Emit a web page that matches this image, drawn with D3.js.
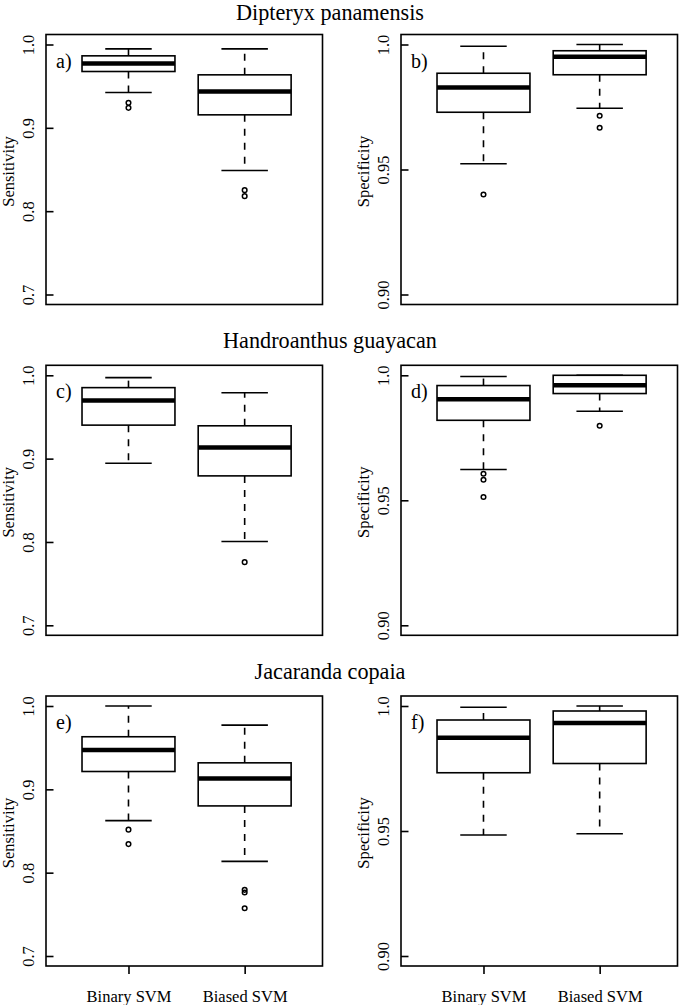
<!DOCTYPE html>
<html>
<head>
<meta charset="utf-8">
<script src="https://cdn.jsdelivr.net/npm/d3@7"></script>
<style>
  body { margin: 0; background: #fff; }
  svg { display: block; font-family: "Liberation Serif", "Times New Roman", serif; }
</style>
</head>
<body>
<div id="chart"></div>
<script>
const species = ["Dipteryx panamensis", "Handroanthus guayacan", "Jacaranda copaia"];
const methods = ["Binary SVM", "Biased SVM"];
const panelLetters = [["a)", "b)"], ["c)", "d)"], ["e)", "f)"]];

// [lower whisker, Q1, median, Q3, upper whisker] for each species, then each method
const sensitivityStats = [
  [[0.9424, 0.9676, 0.9772, 0.9864, 0.9948], [0.8488, 0.9156, 0.9436, 0.9636, 0.9948]],
  [[0.8945, 0.9402, 0.9699, 0.9852, 0.9972], [0.8006, 0.8793, 0.9134, 0.9394, 0.9791]],
  [[0.8624, 0.9214, 0.9471, 0.9631, 1.0], [0.8135, 0.8801, 0.9130, 0.9318, 0.9771]]
];
const sensitivityOutliers = [
  [[0.930, 0.924], [0.8252, 0.818]],
  [[], [0.7758]],
  [[0.8516, 0.8343], [0.7794, 0.7762, 0.7573]]
];
const specificityStats = [
  [[0.9523, 0.9729, 0.9828, 0.9885, 0.9993], [0.9745, 0.9879, 0.9951, 0.9975, 1.0]],
  [[0.9623, 0.9820, 0.9904, 0.9959, 0.9995], [0.9856, 0.9927, 0.9960, 1.0, 1.0]],
  [[0.9484, 0.9733, 0.9873, 0.9944, 0.9995], [0.9489, 0.9770, 0.9932, 0.9980, 1.0]]
];
const specificityOutliers = [
  [[0.940], [0.9715, 0.9667]],
  [[0.9606, 0.9582, 0.9513], [0.9798]],
  [[], []]
];

const sensTicks = [0.7, 0.8, 0.9, 1.0];
const sensTickLabels = ["0.7", "0.8", "0.9", "1.0"];
const specTicks = [0.90, 0.95, 1.0];
const specTickLabels = ["0.90", "0.95", "1.0"];

const width = 679, height = 1005;
const panelH = 270;
const panelTops = [34.5, 365.3, 696];
const colLeft = [46, 401];
const panelW = 276.5;
const lineW = 1.6;

const svg = d3.select("#chart").append("svg")
  .attr("width", width)
  .attr("height", height);

const x = d3.scaleLinear().domain([0.29, 2.67]);
const boxHalf = 0.4, capHalf = 0.2;

const columns = [
  { stats: sensitivityStats, outliers: sensitivityOutliers, domain: [0.688, 1.012],
    ticks: sensTicks, labels: sensTickLabels, title: "Sensitivity" },
  { stats: specificityStats, outliers: specificityOutliers, domain: [0.896, 1.004],
    ticks: specTicks, labels: specTickLabels, title: "Specificity" }
];

species.forEach((sp, row) => {
  const top = panelTops[row];

  // keep the first title's font box inside the page
  svg.append("text")
    .attr("x", 330)
    .attr("y", Math.max(top - 17.5, 19.8))
    .attr("text-anchor", "middle")
    .attr("font-size", 22.2)
    .text(sp);

  columns.forEach((col, c) => {
    const left = colLeft[c];
    const xs = x.copy().range([left, left + panelW]);
    const y = d3.scaleLinear().domain(col.domain).range([top + panelH, top]);
    const g = svg.append("g");

    // y axis: ticks point inward, labels rotated
    const labelFor = d3.scaleOrdinal().domain(col.ticks).range(col.labels);
    g.append("g")
      .attr("transform", `translate(${left},0)`)
      .call(d3.axisLeft(y).tickValues(col.ticks).tickFormat(labelFor).tickSize(-7.5))
      .attr("font-family", null)
      .attr("font-size", null)
      .call(a => a.select(".domain").remove())
      .call(a => a.selectAll(".tick line").attr("stroke", "#000").attr("stroke-width", lineW))
      .call(a => a.selectAll(".tick text")
        .attr("transform", "rotate(-90)")
        .attr("x", 0).attr("y", -11.7).attr("dy", 0)
        .attr("text-anchor", "middle")
        .attr("fill", "#000")
        .attr("font-size", 16.5));

    g.append("text")
      .attr("transform", `translate(${left - 32},${top + panelH / 2 + 2}) rotate(-90)`)
      .attr("text-anchor", "middle")
      .attr("font-size", 16.5)
      .text(col.title);

    methods.forEach((m, i) => {
      const s = col.stats[row][i];
      const cx = i + 1;
      const bg = g.append("g");
      // dashed whiskers, drawn from the box edge outward
      bg.append("line")
        .attr("x1", xs(cx)).attr("x2", xs(cx))
        .attr("y1", y(s[1])).attr("y2", y(s[0]))
        .attr("stroke", "#000").attr("stroke-width", lineW).attr("stroke-dasharray", "7,7");
      bg.append("line")
        .attr("x1", xs(cx)).attr("x2", xs(cx))
        .attr("y1", y(s[3])).attr("y2", y(s[4]))
        .attr("stroke", "#000").attr("stroke-width", lineW).attr("stroke-dasharray", "7,7");
      [s[0], s[4]].forEach(v => {
        bg.append("line")
          .attr("x1", xs(cx - capHalf)).attr("x2", xs(cx + capHalf))
          .attr("y1", y(v)).attr("y2", y(v))
          .attr("stroke", "#000").attr("stroke-width", lineW);
      });
      bg.append("rect")
        .attr("x", xs(cx - boxHalf))
        .attr("width", xs(cx + boxHalf) - xs(cx - boxHalf))
        .attr("y", y(s[3]))
        .attr("height", y(s[1]) - y(s[3]))
        .attr("fill", "#fff")
        .attr("stroke", "#000").attr("stroke-width", lineW);
      bg.append("line")
        .attr("x1", xs(cx - boxHalf)).attr("x2", xs(cx + boxHalf))
        .attr("y1", y(s[2])).attr("y2", y(s[2]))
        .attr("stroke", "#000").attr("stroke-width", 4.5);
      bg.selectAll("circle")
        .data(col.outliers[row][i])
        .join("circle")
        .attr("cx", xs(cx))
        .attr("cy", d => y(d))
        .attr("r", 2.3)
        .attr("fill", "none")
        .attr("stroke", "#000").attr("stroke-width", 1.5);
    });

    // frame
    g.append("rect")
      .attr("x", left).attr("y", top)
      .attr("width", panelW).attr("height", panelH)
      .attr("fill", "none")
      .attr("stroke", "#000").attr("stroke-width", lineW);

    g.append("text")
      .attr("x", left + 10)
      .attr("y", top + 33)
      .attr("font-size", 20)
      .text(panelLetters[row][c]);

    if (row === species.length - 1) {
      g.append("g")
        .attr("transform", `translate(0,${top + panelH})`)
        .call(d3.axisBottom(xs).tickValues([1, 2]).tickFormat(d => methods[d - 1]).tickSize(8))
        .attr("font-family", null)
        .attr("font-size", null)
        .call(a => a.select(".domain").remove())
        .call(a => a.selectAll(".tick line").attr("stroke", "#000").attr("stroke-width", lineW))
        .call(a => a.selectAll(".tick text")
          .attr("y", 35.5).attr("dy", 0)
          .attr("fill", "#000")
          .attr("font-size", 16.5));
    }
  });
});
</script>
</body>
</html>
